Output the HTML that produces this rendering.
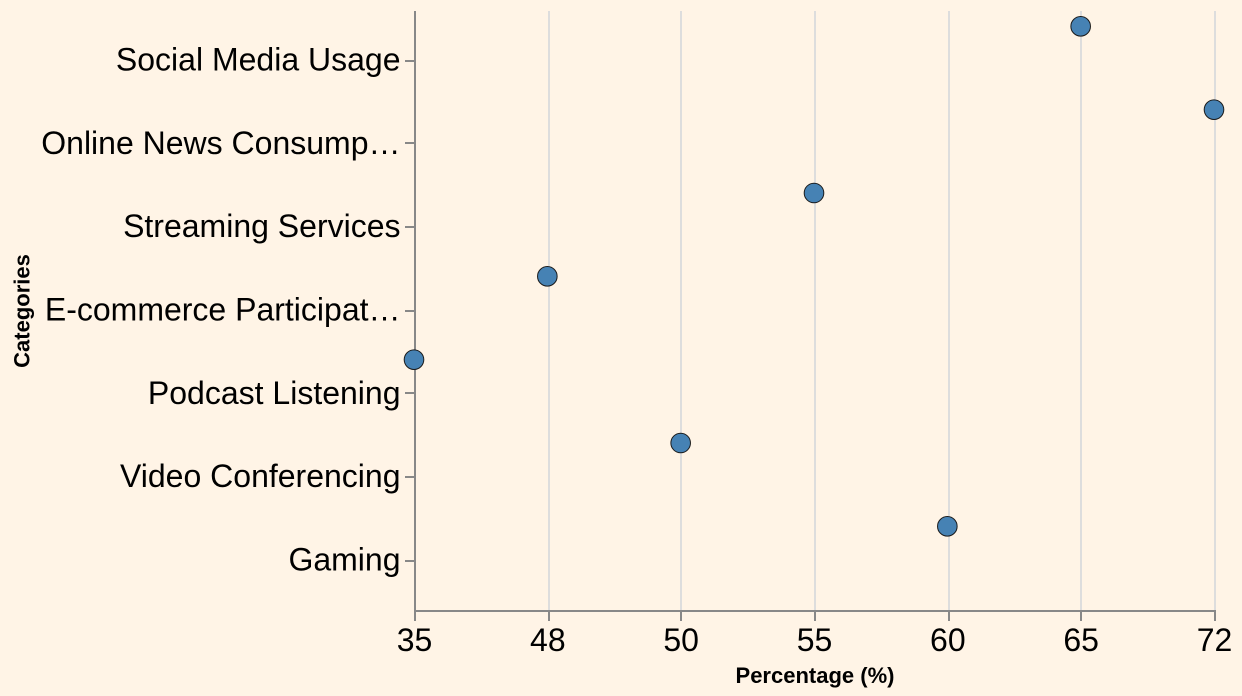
<!DOCTYPE html>
<html lang="en">
<head>
<meta charset="utf-8">
<title>Percentage by Category</title>
<style>
html,body{margin:0;padding:0;background:#fff4e6;width:1242px;height:696px;overflow:hidden}
svg{display:block;font-family:"Liberation Sans",Arial,sans-serif}
</style>
</head>
<body>
<svg id="chart" xmlns="http://www.w3.org/2000/svg" width="1242" height="696" viewBox="0 0 1242 696">
<rect x="0" y="0" width="1242" height="696" fill="#fff4e6"/>
<g id="grid"></g>
<g id="axes"></g>
<g id="points"></g>
<text x="815" y="683" text-anchor="middle" font-size="22" font-weight="bold" fill="#000">Percentage (%)</text>
<text transform="translate(29.5,311) rotate(-90)" text-anchor="middle" font-size="22" font-weight="bold" fill="#000">Categories</text>
</svg>
<script>
const categories = ["Social Media Usage","Online News Consump…","Streaming Services","E-commerce Participat…","Podcast Listening","Video Conferencing","Gaming"];
const percentages = [65,72,55,48,35,50,60];
const xTickValues = [35,48,50,55,60,65,72];

const NS = "http://www.w3.org/2000/svg";
const plotLeft = 415, plotRight = 1215, plotTop = 11, plotBottom = 611;
const bandPadding = 0.6, pointOffsetX = -1, pointOffsetY = -34.67;
const gridLayer = document.getElementById("grid");
const axisLayer = document.getElementById("axes");
const pointLayer = document.getElementById("points");

// The x axis spaces its ticks evenly, so values map piecewise between neighbouring ticks.
function xScale(v) {
  const step = (plotRight - plotLeft) / (xTickValues.length - 1);
  let i = 0;
  while (i < xTickValues.length - 2 && v > xTickValues[i + 1]) i++;
  const a = xTickValues[i], b = xTickValues[i + 1];
  return plotLeft + step * (i + (v - a) / (b - a));
}
function yScale(i) {
  const step = (plotBottom - plotTop) / (categories.length - 1 + 2 * bandPadding);
  return plotTop + step * (bandPadding + i);
}
// Tick and grid lines snap to whole chart units (2px each at this scale).
function snapX(x) {
  return plotLeft + 2 * Math.round((x - plotLeft) / 2 + 1e-6);
}
function snapY(y) {
  return plotTop + 2 * Math.floor((y - plotTop) / 2 + 1e-6);
}
function create(tag, attrs, parent) {
  const el = document.createElementNS(NS, tag);
  for (const k in attrs) el.setAttribute(k, attrs[k]);
  parent.appendChild(el);
  return el;
}

xTickValues.forEach(function (t) {
  const x = snapX(xScale(t));
  const grid = create("line", {x1:x, x2:x, y1:plotTop, y2:plotBottom, stroke:"#dddddd", "stroke-width":2}, gridLayer);
  
  
});

const yDomain = create("line", {x1:plotLeft, x2:plotLeft, y1:plotTop, y2:plotBottom, stroke:"#888888", "stroke-width":2}, axisLayer);


const xDomain = create("line", {x1:plotLeft - 1, x2:plotRight + 1, y1:plotBottom, y2:plotBottom, stroke:"#888888", "stroke-width":2}, axisLayer);



xTickValues.forEach(function (t) {
  const x = snapX(xScale(t));
  const tick = create("line", {x1:x, x2:x, y1:plotBottom, y2:plotBottom + 10, stroke:"#888888", "stroke-width":2}, axisLayer);
  
  
  const label = create("text", {x:xScale(t) - 0.5, y:651, "text-anchor":"middle", "font-size":32, fill:"#000"}, axisLayer);
  
  
  label.textContent = String(t);
});

categories.forEach(function (c, i) {
  const y = yScale(i);
  const ty = snapY(y);
  const tick = create("line", {x1:plotLeft - 10, x2:plotLeft, y1:ty, y2:ty, stroke:"#888888", "stroke-width":2}, axisLayer);
  
  
  const label = create("text", {x:plotLeft - 14.5, y:y + 9.5, "text-anchor":"end", "font-size":32, fill:"#000"}, axisLayer);
  
  
  label.textContent = c;
});

percentages.forEach(function (v, i) {
  const pt = create("circle", {cx:xScale(v) + pointOffsetX, cy:yScale(i) + pointOffsetY, r:9.8, fill:"#4682b4", stroke:"#1a1a1a", "stroke-width":1}, pointLayer);
  
  
});
</script>
</body>
</html>
